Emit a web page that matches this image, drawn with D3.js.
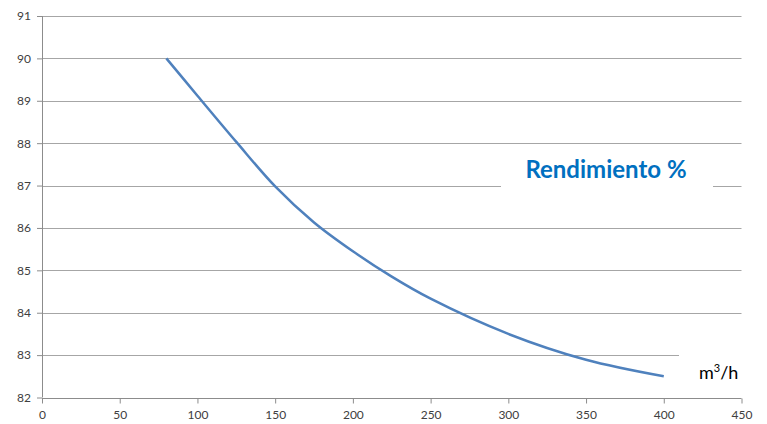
<!DOCTYPE html>
<html><head><meta charset="utf-8">
<script src="https://cdn.jsdelivr.net/npm/d3@7/dist/d3.min.js"></script>
<style>body{margin:0;background:#fff}svg{display:block}</style>
</head><body>
<svg id="c" width="767" height="424"></svg>
<script>
const flow = [80, 100, 125, 150, 175, 200, 225, 250, 300, 350, 400];
const efficiency = [90, 89.12, 88.03, 86.98, 86.13, 85.45, 84.85, 84.33, 83.5, 82.89, 82.5];
const xTicks = [0, 50, 100, 150, 200, 250, 300, 350, 400, 450];
const yTicks = [82, 83, 84, 85, 86, 87, 88, 89, 90, 91];
const title = "Rendimiento %";
const unitBase = "m", unitSup = "3", unitTail = "/h";

const svg = d3.select("#c");
const x = d3.scaleLinear().domain([0, 450]).range([42, 741.5]);
const y = d3.scaleLinear().domain([82, 91]).range([397.5, 16]);
const font = "Lato, 'Open Sans', sans-serif";

// gridlines
svg.append("g").selectAll("line").data(yTicks.filter(d => d > 82)).join("line")
  .attr("x1", x(0)).attr("x2", x(450))
  .attr("y1", d => Math.round(y(d)) + 0.5).attr("y2", d => Math.round(y(d)) + 0.5)
  .attr("stroke", "#a6a6a6").attr("stroke-width", 1);

// y axis
const ya = svg.append("g").attr("transform", `translate(${x(0)},0)`)
  .call(d3.axisLeft(y).tickValues(yTicks).tickSize(5).tickPadding(6).tickFormat(d3.format("d")));
ya.select(".domain").attr("stroke", "#8c8c8c").attr("d", `M0.5,${y(91)}V${y(82)}`);
ya.selectAll(".tick line").attr("stroke", "#8c8c8c");
ya.selectAll("text").attr("font-family", font).attr("font-size", 12).attr("fill", "#404040");

// x axis
const xa = svg.append("g").attr("transform", `translate(0,${Math.round(y(82)) + 0.5})`)
  .call(d3.axisBottom(x).tickValues(xTicks).tickSize(5).tickPadding(7).tickFormat(d3.format("d")));
xa.select(".domain").attr("stroke", "#8c8c8c").attr("d", `M${x(0)},0H${x(450)}`);
xa.selectAll(".tick line").attr("stroke", "#8c8c8c");
xa.selectAll("text").attr("font-family", font).attr("font-size", 12).attr("fill", "#404040");

// curve
const line = d3.line().x((d, i) => x(flow[i])).y(d => y(d)).curve(d3.curveCatmullRom.alpha(0.5));
svg.append("path").datum(efficiency).attr("d", line)
  .attr("fill", "none").attr("stroke", "#4f81bd").attr("stroke-width", 2.5);

// title box
svg.append("rect").attr("x", 501).attr("y", 144).attr("width", 212).attr("height", 52).attr("fill", "#fff");
svg.append("text").attr("x", 606).attr("y", 178).attr("text-anchor", "middle")
  .attr("font-family", font).attr("font-size", 24).attr("font-weight", "bold")
  .attr("fill", "#0070c0").text(title);

// unit box
svg.append("rect").attr("x", 679).attr("y", 347).attr("width", 88).attr("height", 44).attr("fill", "#fff");
const ut = svg.append("text").attr("x", 699).attr("y", 379)
  .attr("font-family", font).attr("font-size", 18).attr("fill", "#000");
ut.append("tspan").text(unitBase);
ut.append("tspan").attr("font-size", 11).attr("dy", -7).text(unitSup);
ut.append("tspan").attr("dy", 7).text(unitTail);
</script>
</body></html>
